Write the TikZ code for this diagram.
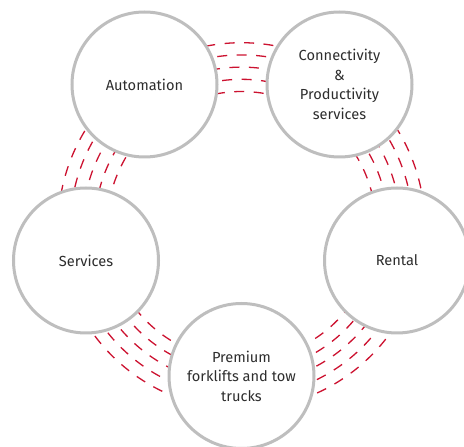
\documentclass[tikz,border=0pt]{standalone}
\usepackage{fontspec}
\setmainfont{Fira Sans}
\begin{document}
\begin{tikzpicture}[x=1pt,y=1pt,
  topic/.style={circle, draw=ringgrey, line width=3pt, fill=white,
    minimum size=145pt, inner sep=0pt, align=center, text=textgrey,
    font=\fontsize{14.6}{19.5}\selectfont},
  link/.style={draw=linkred, line width=1.3pt, dash pattern=on 10pt off 9.5pt}]
\definecolor{ringgrey}{RGB}{190,190,190}
\definecolor{linkred}{RGB}{204,18,48}
\definecolor{textgrey}{RGB}{45,45,45}
\useasboundingbox (0,0) rectangle (464,447);
\clip (0,0) rectangle (464,447);

% common centre of the dashed rings
\coordinate (O) at (241.5,221);

% dashed rings between neighbouring topics (covered inside the circles)
\foreach \a/\b in {55.6/124.4, 124.4/192.5, 192.5/270, 270/347.5, 347.5/415.6}{
  \foreach \r in {134.5,146.7,158.9,171.1,183.3}{
    \draw[link] ([shift={(\a:\r)}]O) arc[start angle=\a, end angle=\b, radius=\r];
  }
}

% topics
\node[topic] (auto) at (144.5,362.5) {Automation};
\node[topic] (conn) at (339.5,362.5) {Connectivity\\\&\\Productivity\\services};
\node[topic] (serv) at (86,186.5) {Services};
\node[topic] (rent) at (397,186.5) {Rental};
\node[topic] (prem) at (241.5,71) {Premium\\forklifts and tow\\trucks};
\end{tikzpicture}
\end{document}
